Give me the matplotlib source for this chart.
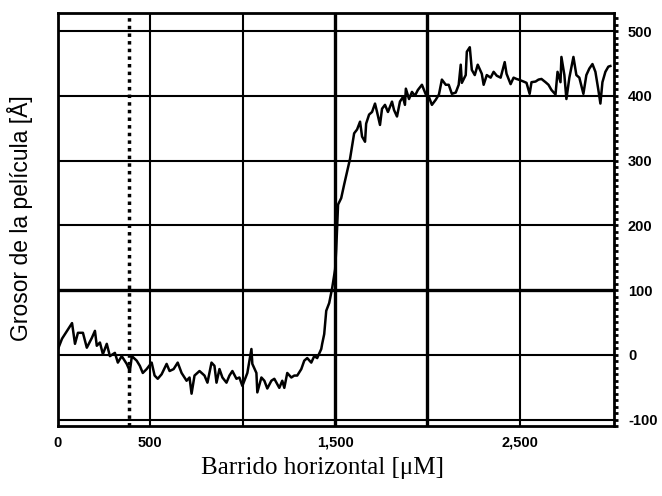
import matplotlib
matplotlib.use('Agg')
import matplotlib.pyplot as plt
from matplotlib.ticker import MultipleLocator

# perfil: barrido horizontal (uM) vs grosor (A)
barrido = [0, 22, 76, 92, 108, 135, 156, 183, 200, 210, 227, 243, 264, 281, 308,
           324, 345, 372, 389, 400, 426, 443, 459, 480, 507, 523, 540, 561, 588,
           604, 626, 648, 669, 696, 712, 723, 739, 766, 793, 809, 831, 847, 858,
           874, 890, 912, 928, 944, 966, 982, 998, 1025, 1047, 1052, 1074, 1079,
           1101, 1117, 1133, 1155, 1171, 1198, 1214, 1225, 1241, 1263, 1279, 1295,
           1317, 1333, 1349, 1371, 1387, 1403, 1425, 1430, 1441, 1452, 1468, 1484,
           1500, 1506, 1516, 1533, 1549, 1565, 1581, 1592, 1603, 1619, 1635, 1646,
           1662, 1668, 1684, 1700, 1716, 1727, 1743, 1754, 1770, 1786, 1808, 1819,
           1835, 1851, 1867, 1878, 1883, 1900, 1916, 1932, 1948, 1970, 1991, 2008,
           2024, 2045, 2062, 2078, 2099, 2115, 2132, 2153, 2169, 2180, 2186, 2207,
           2213, 2229, 2240, 2256, 2272, 2294, 2304, 2321, 2342, 2358, 2375, 2396,
           2418, 2428, 2450, 2466, 2482, 2493, 2520, 2536, 2553, 2563, 2585, 2601,
           2617, 2639, 2655, 2671, 2693, 2704, 2720, 2725, 2741, 2752, 2768, 2790,
           2806, 2822, 2844, 2860, 2876, 2893, 2909, 2925, 2936, 2947, 2963, 2979,
           2990]
grosor = [9, 25, 49, 17, 34, 34, 11, 26, 37, 14, 19, 1, 17, -2, 3,
          -12, -2, -14, -25, -2, -9, -17, -28, -22, -12, -32, -37, -30, -14,
          -25, -22, -12, -28, -40, -35, -60, -32, -25, -32, -43, -12, -17, -43,
          -22, -35, -43, -32, -25, -37, -35, -48, -28, 9, -14, -28, -58,
          -35, -40, -52, -40, -37, -51, -40, -51, -28, -35, -32, -32,
          -22, -9, -5, -12, -2, -5, 9, 17, 32, 68, 80, 103,
          132, 163, 232, 242, 263, 283, 303, 322, 342, 348, 360, 337,
          329, 357, 371, 375, 388, 375, 355, 380, 386, 375, 391, 378,
          368, 391, 398, 386, 411, 395, 406, 400, 409, 417, 402, 398,
          386, 394, 402, 425, 417, 417, 403, 405, 417, 448, 420, 432,
          468, 475, 440, 432, 448, 434, 417, 432, 428, 437, 431, 428,
          452, 434, 418, 428, 426, 425, 422, 420, 403, 421, 422, 425,
          426, 421, 417, 409, 402, 437, 421, 460, 432, 395, 428, 460,
          432, 428, 403, 432, 442, 449, 437, 409, 388, 421, 437, 445,
          446]

rejilla_x = [500, 1000, 1500, 2000, 2500]
rejilla_x_gruesa = [1500, 2000]
rejilla_y = [-100, 0, 100, 200, 300, 400, 500]
rejilla_y_gruesa = [100]
marca_punteada = 384

etiquetas_x = [0, 500, 1500, 2500]
textos_x = ['0', '500', '1,500', '2,500']
etiquetas_y = [-100, 0, 100, 200, 300, 400, 500]

fig = plt.figure(figsize=(6.62, 4.96), dpi=100)
ax = fig.add_axes([0.0876, 0.141, 0.84, 0.833])

for v in rejilla_x:
    lw = 2.4 if v in rejilla_x_gruesa else 1.5
    ax.axvline(v, color='black', lw=lw, zorder=1)
for v in rejilla_y:
    lw = 2.4 if v in rejilla_y_gruesa else 1.5
    ax.axhline(v, color='black', lw=lw, zorder=1)
ax.axvline(marca_punteada, color='black', lw=2.5, ls=(0, (1, 1.2)), zorder=1)

ax.plot(barrido, grosor, color='black', lw=1.8, zorder=3)

ax.set_xlim(0, 3010)
ax.set_ylim(-110, 528)

ax.set_xticks(etiquetas_x)
ax.set_xticklabels(textos_x, fontweight='bold', fontsize=10.5, family='Liberation Sans')
ax.tick_params(axis='x', length=0, pad=7)

ax.yaxis.tick_right()
ax.set_yticks(etiquetas_y)
ax.set_yticklabels([str(v) for v in etiquetas_y], fontweight='bold', fontsize=10.5,
                   family='Liberation Sans')
ax.yaxis.set_minor_locator(MultipleLocator(10))
ax.tick_params(axis='y', which='major', length=3, width=2, direction='out', pad=7)
ax.tick_params(axis='y', which='minor', length=3, width=2, direction='out')

for s in ax.spines.values():
    s.set_linewidth(2)

fig.text(0.03, 0.56, 'Grosor de la película [Å]', rotation=90, ha='center',
         va='center', fontsize=16.5, family='Liberation Sans')
fig.text(0.487, 0.056, 'Barrido horizontal [μM]', ha='center', va='center',
         fontsize=18, family='Liberation Serif')

fig.savefig('out.png', dpi=100)
